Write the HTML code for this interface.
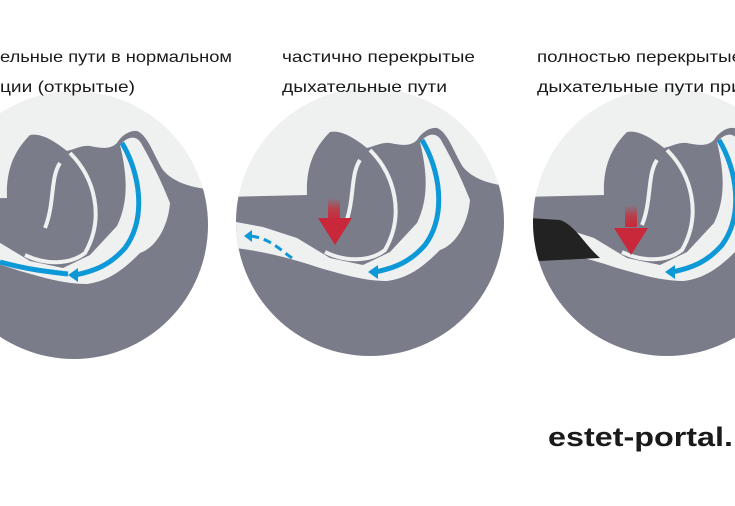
<!DOCTYPE html>
<html><head><meta charset="utf-8"><style>
html,body{margin:0;padding:0;background:#fff;width:735px;height:506px;overflow:hidden}
svg{display:block}
text{font-family:"Liberation Sans",sans-serif;fill:#1a1a1a}
</style></head><body>
<svg width="735" height="506" viewBox="0 0 735 506" xmlns="http://www.w3.org/2000/svg">
<defs>
<linearGradient id="rg" x1="0" y1="0" x2="0" y2="1">
<stop offset="0" stop-color="#c8303a" stop-opacity="0"/>
<stop offset="0.5" stop-color="#c8303a" stop-opacity="0.8"/>
<stop offset="1" stop-color="#c8283a"/>
</linearGradient>
<g id="scene">
<circle cx="370" cy="222" r="134" fill="#eff0f0"/>
<path fill="#7a7c8a" d="M225 197 L307 195 C306 170 312 150 330 132 C340 130 352 136 367 148 C375 146 382 142 390 143 C400 145 410 147 417 140 C422 132 430 127 437 128 C448 132 455 155 463 167 C472 178 490 186 520 187 L520 380 L225 380 Z"/>
<path fill="#eff0f0" d="M225 220 L263 227 L297 238 L330 258 L363 265 L390 252 L417 223 C428 200 428 175 420 142 C428 133 436 132 441 140 C455 165 462 180 470 200 C468 225 455 245 440 250 C425 265 410 278 387 281 C365 281 345 275 320 268 C290 258 260 250 225 247 Z"/>
<path fill="none" stroke="#eff0f0" stroke-width="4" d="M360 160 C350 175 355 200 345 225"/>
<path fill="none" stroke="#eff0f0" stroke-width="4" d="M370 150 C395 175 405 215 385 250 C370 262 345 262 325 252"/>
<path fill="none" stroke="#0d98d8" stroke-width="5" d="M422 140 C440 170 447 215 425 245 C410 262 395 268 375 272"/>
<polygon fill="#0d98d8" points="368,272 378,265 378,279"/>
</g>
<clipPath id="c1"><circle cx="74" cy="225" r="134"/></clipPath>
<clipPath id="c2"><circle cx="370" cy="222" r="134"/></clipPath>
<clipPath id="c3"><circle cx="667" cy="222" r="134"/></clipPath>
</defs>

<g clip-path="url(#c1)"><circle cx="74" cy="225" r="134" fill="#eff0f0"/><use href="#scene" transform="translate(-300,3)"/>
<path fill="none" stroke="#0d98d8" stroke-width="5" d="M0 262 C30 270 50 272 68 274"/></g>

<g clip-path="url(#c2)"><use href="#scene"/>
<path fill="none" stroke="#0d98d8" stroke-width="3" stroke-dasharray="8 5" d="M292 258 C280 250 270 238 250 236"/>
<polygon fill="#0d98d8" points="244,236 252,230 252,242"/>
<rect x="328" y="198" width="12" height="22" fill="url(#rg)"/>
<polygon fill="#c8283a" points="318,218 352,218 335,245"/></g>

<g clip-path="url(#c3)"><use href="#scene" transform="translate(297,0)"/>
<path fill="#222" d="M530 218 L560 220 C575 225 585 245 600 258 L520 262 Z M540 250 L560 250 C566 252 566 258 560 260 L540 260 Z"/>
<rect x="625" y="205" width="12" height="22" fill="url(#rg)"/>
<polygon fill="#c8283a" points="614,228 648,228 631,255"/></g>

<text x="0" y="62" font-size="16" textLength="232" lengthAdjust="spacingAndGlyphs">ельные пути в нормальном</text>
<text x="0" y="92" font-size="16" textLength="135" lengthAdjust="spacingAndGlyphs">ции (открытые)</text>
<text x="282" y="62" font-size="16" textLength="193" lengthAdjust="spacingAndGlyphs">частично перекрытые</text>
<text x="282" y="92" font-size="16" textLength="165" lengthAdjust="spacingAndGlyphs">дыхательные пути</text>
<text x="537" y="62" font-size="16" textLength="205" lengthAdjust="spacingAndGlyphs">полностью перекрытые</text>
<text x="537" y="92" font-size="16" textLength="205" lengthAdjust="spacingAndGlyphs">дыхательные пути при</text>
<text x="548" y="446" font-size="27" font-weight="bold" textLength="185" lengthAdjust="spacingAndGlyphs">estet-portal.</text>
</svg>
</body></html>
